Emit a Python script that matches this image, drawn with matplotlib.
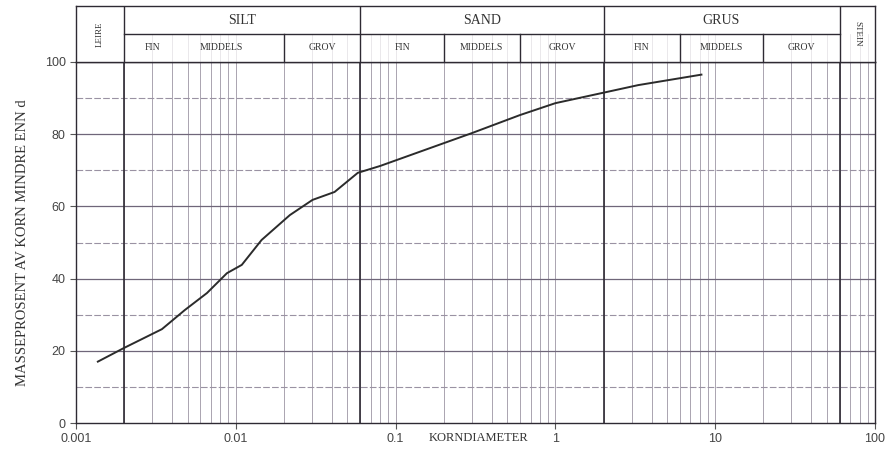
import numpy as np
import matplotlib
matplotlib.use("Agg")
import matplotlib.pyplot as plt

# Grain size distribution (sieve + hydrometer)
grain_mm = [0.00137, 0.002, 0.00345, 0.0048, 0.0066, 0.0088, 0.0109, 0.0145,
            0.0218, 0.0302, 0.0415, 0.058, 0.08, 0.3, 0.6, 1.0, 2.0, 3.3, 8.2]
passing_pct = [17.0, 20.8, 26.0, 31.3, 36.0, 41.5, 43.8, 50.7,
               57.6, 61.8, 64.0, 69.3, 71.2, 80.3, 85.3, 88.6, 91.5, 93.6, 96.5]

x_ticks = [0.001, 0.01, 0.1, 1, 10, 100]
x_tick_labels = ["0.001", "0.01", "0.1", "1", "10", "100"]
y_ticks = [0, 20, 40, 60, 80, 100]

# Soil classes (main fractions) and their limits in mm
main_limits = [0.001, 0.002, 0.06, 2, 60, 100]
main_names = ["LEIRE", "SILT", "SAND", "GRUS", "STEIN"]
sub_limits = [0.02, 0.2, 0.6, 6, 20]
sub_names = ["FIN", "MIDDELS", "GROV"] * 3
sub_pos = [0.00303, 0.00818, 0.0346, 0.11, 0.346, 1.1, 3.46, 11.0, 34.6]

LINE = "#2e2a33"
GRID_MAJ = "#6f6679"
GRID_MIN = "#9a92a3"
GRID_V = "#aaa4b0"
SERIF = ["Liberation Serif", "DejaVu Serif"]

fig = plt.figure(figsize=(8.87, 4.53), dpi=100)
L, R = 76 / 887, 875 / 887
B, T = 30 / 453, 391 / 453
ax = fig.add_axes([L, B, R - L, T - B])
hx = fig.add_axes([L, T, R - L, (447 - 391) / 453])

for a in (ax, hx):
    a.set_xscale("log")
    a.set_xlim(0.001, 100)

ax.set_ylim(0, 100)

# vertical grid: every log step, heavier at class limits
for dec in [0.001, 0.01, 0.1, 1, 10]:
    for k in range(1, 10):
        v = dec * k
        if v <= 0.001 or v >= 100:
            continue
        ax.axvline(v, color=GRID_V, lw=0.7, zorder=1)
        hx.axvline(v, ymin=0, ymax=0.5, color=GRID_V, lw=0.5, alpha=0.35, zorder=1)
for v in main_limits[1:-1]:
    ax.axvline(v, color=LINE, lw=1.2, zorder=2)

# horizontal grid
for v in [20, 40, 60, 80]:
    ax.axhline(v, color=GRID_MAJ, lw=0.9, zorder=1)
for v in [10, 30, 50, 70, 90]:
    ax.axhline(v, color=GRID_MIN, lw=0.8, ls=(0, (6, 2)), zorder=1)

ax.plot(grain_mm, passing_pct, color="#2b2b2b", lw=1.4, zorder=3)

ax.set_xticks(x_ticks)
ax.set_xticklabels(x_tick_labels)
ax.xaxis.set_minor_locator(matplotlib.ticker.NullLocator())
ax.set_yticks(y_ticks)
ax.tick_params(axis="both", colors="#555555", labelsize=9, length=4, width=0.8,
               labelcolor="#444444")
for lab in ax.get_xticklabels() + ax.get_yticklabels():
    lab.set_family(["Liberation Sans", "DejaVu Sans"])
ax.set_ylabel("MASSEPROSENT AV KORN MINDRE ENN d", family=SERIF, fontsize=10.5,
              color="#333333", labelpad=11)
ax.text(0.33, -0.025, "KORNDIAMETER", transform=ax.get_xaxis_transform(),
        ha="center", va="top", family=SERIF, fontsize=9, color="#333333")
for s in ax.spines.values():
    s.set_color(LINE)
    s.set_linewidth(1.0)

# header with soil class names
hx.set_ylim(0, 2)
hx.set_xticks([])
hx.set_yticks([])
hx.xaxis.set_minor_locator(matplotlib.ticker.NullLocator())
for s in hx.spines.values():
    s.set_color(LINE)
    s.set_linewidth(1.0)
hx.plot([0.002, 60], [1, 1], color=LINE, lw=1.0)
for v in main_limits[1:-1]:
    hx.plot([v, v], [0, 2], color=LINE, lw=1.0)
for v in sub_limits:
    hx.plot([v, v], [0, 1], color=LINE, lw=1.0)

for i, name in enumerate(main_names):
    lo, hi = main_limits[i], main_limits[i + 1]
    xc = np.sqrt(lo * hi)
    if name == "LEIRE":
        hx.text(xc, 1, name, rotation=90, ha="center", va="center",
                family=SERIF, fontsize=6.5, color="#333333")
    elif name == "STEIN":
        hx.text(xc, 1, name, rotation=-90, ha="center", va="center",
                family=SERIF, fontsize=6.5, color="#333333")
    else:
        hx.text(xc, 1.5, name, ha="center", va="center",
                family=SERIF, fontsize=10, color="#333333")
for name, xp in zip(sub_names, sub_pos):
    hx.text(xp, 0.5, name, ha="center", va="center", family=SERIF,
            fontsize=7, color="#333333")

fig.savefig("out.png", dpi=100)
